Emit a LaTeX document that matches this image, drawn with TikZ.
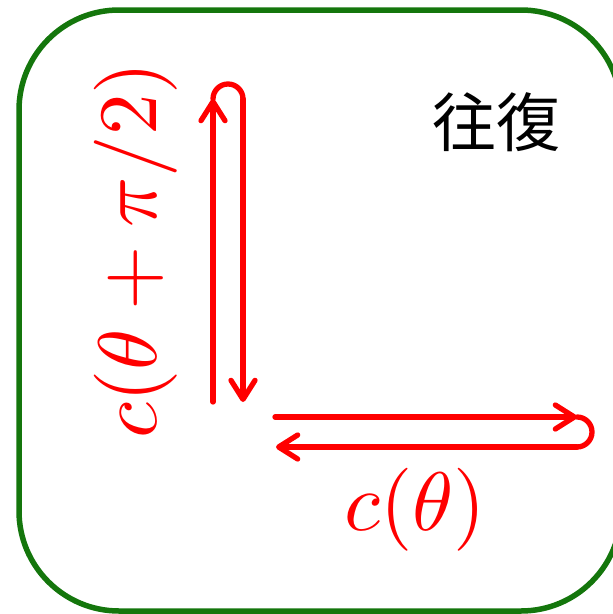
\documentclass[tikz,border=0pt]{standalone}
\usepackage{graphicx}
\usepackage{fontspec}
\newfontfamily\cjk{Noto Sans CJK JP}
\usetikzlibrary{arrows.meta}
\definecolor{framegreen}{RGB}{20,118,12}
\tikzset{
  redline/.style={draw=red, line width=5.3pt, line cap=round},
  barb/.style={-{Straight Barb[length=19pt,width=24pt,line cap=round,line join=round]}},
  frame/.style={draw=framegreen, line width=5.5pt, rounded corners=100pt},
  biglabel/.style={text=red, inner sep=0pt, font=\fontsize{10}{12}\selectfont},
}
\begin{document}
\begin{tikzpicture}[x=1pt,y=-1pt]
\useasboundingbox (0,0) rectangle (613,614);
\draw[frame] (19,10) rectangle (621,611);
% vertical round trip
\coordinate (v1) at (213,402);
\coordinate (v2) at (213,99);
\coordinate (v3) at (243,99);
\coordinate (v4) at (243,402);
\draw[redline,barb] (v1) -- (v2);
\draw[redline] (v2) arc[start angle=180,end angle=0,radius=15pt];
\draw[redline,barb] (v3) -- (v4);
% horizontal round trip
\coordinate (h1) at (275,417);
\coordinate (h2) at (577,417);
\coordinate (h3) at (577,447);
\coordinate (h4) at (276,447);
\draw[redline,barb] (h1) -- (h2);
\draw[redline] (h2) arc[start angle=90,end angle=-90,radius=15pt];
\draw[redline,barb] (h3) -- (h4);
% labels
\node[biglabel] (lh) at (415,510) {\scalebox{8.3}{$c(\theta)$}};
\node[biglabel, rotate=90] (lv) at (136,250) {\scalebox{8.3}{$c(\theta+\pi/2)$}};
\node[inner sep=0pt, font=\cjk\fontsize{64}{70}\selectfont] (ow) at (496,122) {往復};
\end{tikzpicture}
\end{document}
